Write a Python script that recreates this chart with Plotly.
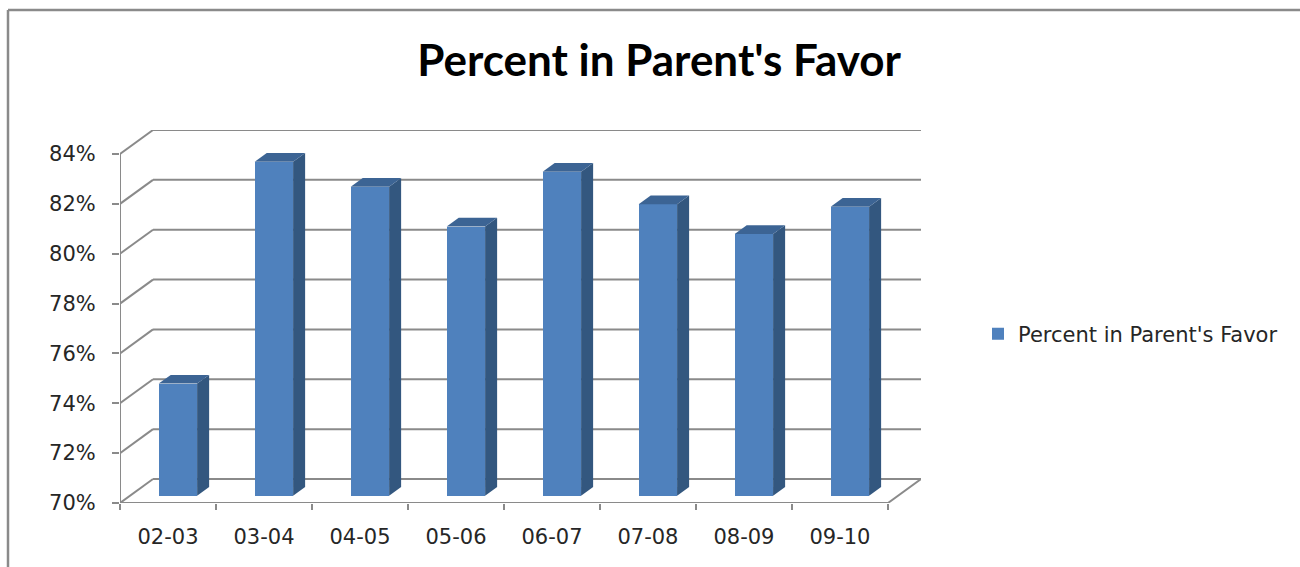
import plotly.graph_objects as go

# Data
seasons = ["02-03", "03-04", "04-05", "05-06", "06-07", "07-08", "08-09", "09-10"]
percent_favor = [74.5, 83.4, 82.4, 80.8, 83.0, 81.7, 80.5, 81.6]
y_ticks = [70, 72, 74, 76, 78, 80, 82, 84]
y_tick_text = ["70%", "72%", "74%", "76%", "78%", "80%", "82%", "84%"]
series_name = "Percent in Parent's Favor"

# Pseudo-3D geometry (in data units)
Y_MIN, Y_MAX = 70, 84
DEPTH_X = 0.344      # floor depth along the category axis
DEPTH_Y = 0.963      # floor depth along the value axis
FRONT = 0.30         # depth fraction where the bar front faces sit
BAR_DEPTH = 0.364    # bar depth as a fraction of floor depth
BAR_W = 0.40

FRONT_COLOR = "#4F81BD"
SIDE_COLOR = "#33577F"
TOP_COLOR = "#3C6494"
GRID_COLOR = "#8A8A8A"
LABEL_FONT = "DejaVu Sans"
TITLE_FONT = "Lato"
TEXT_COLOR = "#262626"

n = len(seasons)
x_lo, x_hi = -0.5, n - 0.5
fx, fy = FRONT * DEPTH_X, FRONT * DEPTH_Y
bx, by = BAR_DEPTH * DEPTH_X, BAR_DEPTH * DEPTH_Y

fig = go.Figure()

# Front faces of the columns
fig.add_trace(go.Bar(
    x=[i + fx for i in range(n)],
    y=[v - Y_MIN for v in percent_favor],
    base=Y_MIN + fy,
    width=BAR_W,
    marker=dict(color=FRONT_COLOR, line=dict(width=0)),
    name=series_name,
    showlegend=True,
))

# Side and top faces of the columns
for i, v in enumerate(percent_favor):
    left = i + fx - BAR_W / 2
    right = i + fx + BAR_W / 2
    bottom = Y_MIN + fy
    top = v + fy
    fig.add_trace(go.Scatter(
        x=[right, right, right + bx, right + bx, right],
        y=[bottom, top, top + by, bottom + by, bottom],
        fill="toself", fillcolor=SIDE_COLOR, mode="lines",
        line=dict(width=0, color=SIDE_COLOR), showlegend=False, hoverinfo="skip",
    ))
    fig.add_trace(go.Scatter(
        x=[left, right, right + bx, left + bx, left],
        y=[top, top, top + by, top + by, top],
        fill="toself", fillcolor=TOP_COLOR, mode="lines",
        line=dict(width=0, color=TOP_COLOR), showlegend=False, hoverinfo="skip",
    ))

# Walls and floor
shapes = []
line_style = dict(color=GRID_COLOR, width=2)
for t in y_ticks:
    # back wall gridline
    shapes.append(dict(type="line", xref="x", yref="y", layer="below",
                       x0=x_lo + DEPTH_X, x1=x_hi + DEPTH_X,
                       y0=t + DEPTH_Y, y1=t + DEPTH_Y, line=line_style))
    # side wall gridline
    shapes.append(dict(type="line", xref="x", yref="y", layer="below",
                       x0=x_lo, x1=x_lo + DEPTH_X,
                       y0=t, y1=t + DEPTH_Y, line=line_style))
# value axis line
shapes.append(dict(type="line", xref="x", yref="y", layer="below",
                   x0=x_lo, x1=x_lo, y0=Y_MIN, y1=Y_MAX, line=line_style))
# floor front edge and right edge
shapes.append(dict(type="line", xref="x", yref="y", layer="below",
                   x0=x_lo, x1=x_hi, y0=Y_MIN, y1=Y_MIN, line=line_style))
shapes.append(dict(type="line", xref="x", yref="y", layer="below",
                   x0=x_hi, x1=x_hi + DEPTH_X, y0=Y_MIN, y1=Y_MIN + DEPTH_Y,
                   line=line_style))

# Chart area frame (top and left edges)
W, H = 1300, 567
ML, MR, MT, MB = 120, 379, 130, 64
pw, ph = W - ML - MR, H - MT - MB


def px_to_paper(px, py):
    return (px - ML) / pw, (H - MB - py) / ph


fx0, fy0 = px_to_paper(8, 10)
fx1, _ = px_to_paper(1310, 10)
_, fy1 = px_to_paper(8, 580)
frame = dict(color="#8A8A8A", width=2.5)
shapes.append(dict(type="line", xref="paper", yref="paper", x0=fx0, x1=fx1,
                   y0=fy0, y1=fy0, line=frame))
shapes.append(dict(type="line", xref="paper", yref="paper", x0=fx0, x1=fx0,
                   y0=fy0, y1=fy1, line=frame))

lgx, lgy = px_to_paper(978, 334)

fig.update_layout(
    width=W, height=H,
    margin=dict(l=ML, r=MR, t=MT, b=MB, pad=0),
    paper_bgcolor="white", plot_bgcolor="white",
    font=dict(family=LABEL_FONT, color=TEXT_COLOR, size=21),
    title=dict(text="<b>Percent in Parent's Favor</b>", x=0.507, xanchor="center",
               y=1 - 61 / H, yanchor="middle",
               font=dict(family=TITLE_FONT, size=44, color="#000000")),
    showlegend=True,
    legend=dict(x=lgx, y=lgy, xanchor="left", yanchor="middle",
                font=dict(family=LABEL_FONT, size=21, color=TEXT_COLOR),
                bgcolor="rgba(0,0,0,0)", itemwidth=30),
    shapes=shapes,
    bargap=0,
)

fig.update_xaxes(
    range=[x_lo, x_hi + DEPTH_X],
    tickmode="array", tickvals=list(range(n)), ticktext=seasons,
    ticks="", showgrid=False, zeroline=False, showline=False,
    ticklabelstandoff=19,
    tickfont=dict(family=LABEL_FONT, size=21, color=TEXT_COLOR),
    minor=dict(tickmode="linear", tick0=-0.5, dtick=1, ticks="outside",
               ticklen=6, tickcolor=GRID_COLOR, tickwidth=2, showgrid=False),
    fixedrange=True,
)
fig.update_yaxes(
    range=[Y_MIN, Y_MAX + DEPTH_Y],
    tickmode="array", tickvals=y_ticks, ticktext=y_tick_text,
    ticks="outside", ticklen=7, tickcolor=GRID_COLOR, tickwidth=2,
    showgrid=False, zeroline=False, showline=False,
    ticklabelstandoff=12,
    tickfont=dict(family=LABEL_FONT, size=21, color=TEXT_COLOR),
    fixedrange=True,
)

fig.write_html("out.html")
